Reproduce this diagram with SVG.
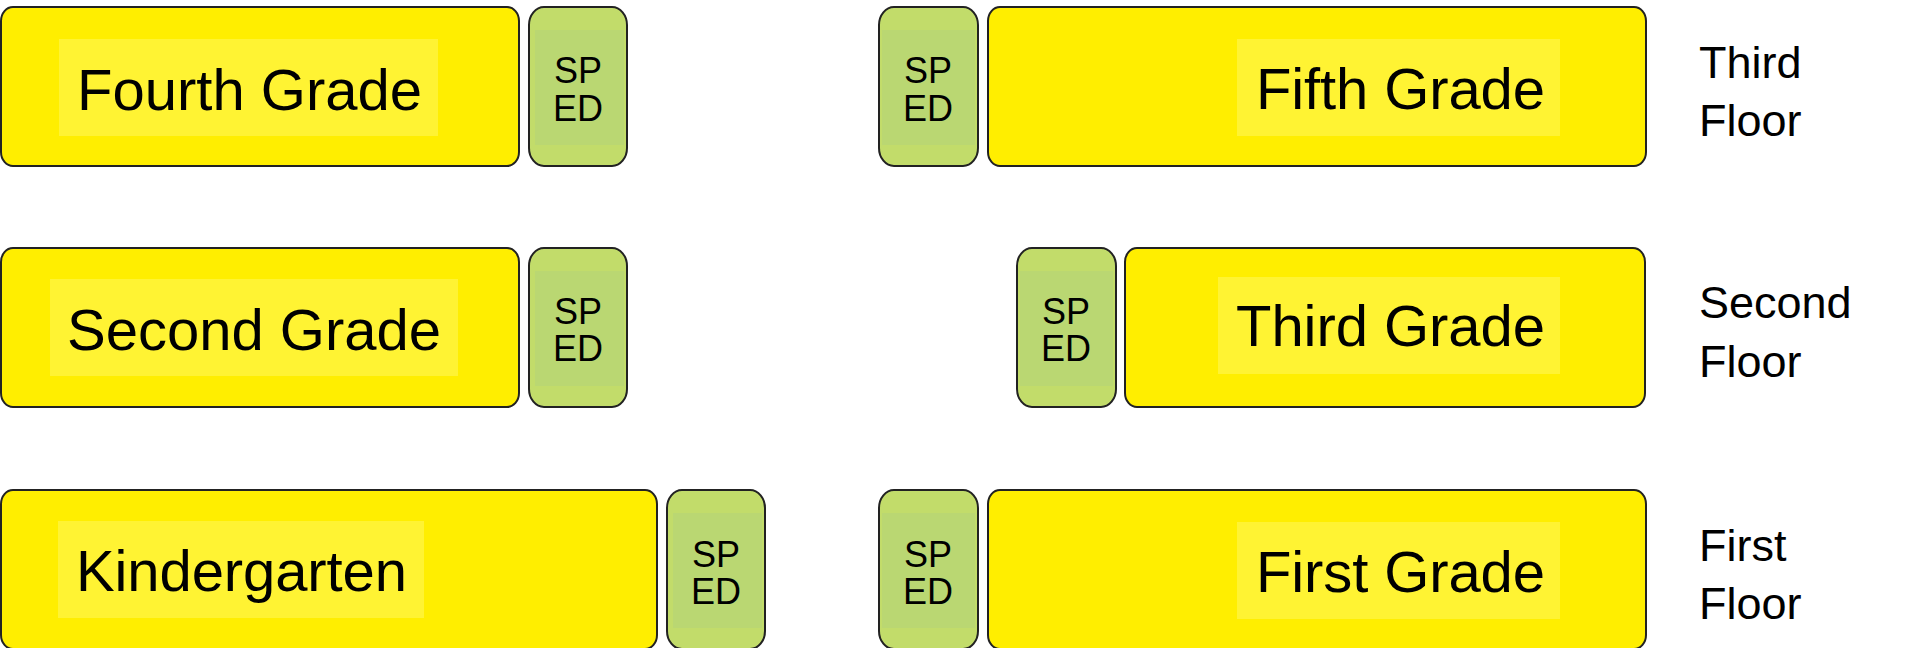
<svg xmlns="http://www.w3.org/2000/svg" width="1913" height="648" viewBox="0 0 1913 648">
<style>
.room{fill:#ffee00;stroke:#222;stroke-width:2}
.lbg{fill:#fff333}
.sped{fill:#c2dc6a;stroke:#222;stroke-width:2}
.spin{fill:#bad772}
.lt{font-family:"Liberation Sans",Arial,sans-serif;font-size:58px;fill:#000}
.st{font-family:"Liberation Sans",Arial,sans-serif;font-size:36px;fill:#000;text-anchor:middle}
.ft{font-family:"Liberation Sans",Arial,sans-serif;font-size:45px;fill:#000}
</style>
<rect width="1913" height="648" fill="#fff"/>
<g id="fourth-grade">
<rect class="room" x="1" y="7" width="518" height="159" rx="12" ry="14"/>
<rect class="lbg" x="59" y="39" width="379" height="97"/>
<text class="lt" x="77" y="110" textLength="345">Fourth Grade</text>
</g>
<g id="sped-1">
<rect class="sped" x="529" y="7" width="98" height="159" rx="15" ry="18"/>
<rect class="spin" x="535" y="30" width="89" height="115"/>
<text class="st" x="578" y="83">SP</text>
<text class="st" x="578" y="121">ED</text>
</g>
<g id="sped-2">
<rect class="sped" x="879" y="7" width="99" height="159" rx="15" ry="18"/>
<rect class="spin" x="882" y="30" width="93" height="115"/>
<text class="st" x="928" y="83">SP</text>
<text class="st" x="928" y="121">ED</text>
</g>
<g id="fifth-grade">
<rect class="room" x="988" y="7" width="658" height="159" rx="12" ry="14"/>
<rect class="lbg" x="1237" y="39" width="323" height="97"/>
<text class="lt" x="1256" y="109" textLength="289">Fifth Grade</text>
</g>
<g id="third-floor">
<text class="ft" x="1699" y="78">Third</text>
<text class="ft" x="1699" y="136">Floor</text>
</g>
<g id="second-grade">
<rect class="room" x="1" y="248" width="518" height="159" rx="12" ry="14"/>
<rect class="lbg" x="50" y="279" width="408" height="97"/>
<text class="lt" x="67" y="350" textLength="374">Second Grade</text>
</g>
<g id="sped-3">
<rect class="sped" x="529" y="248" width="98" height="159" rx="15" ry="18"/>
<rect class="spin" x="535" y="271" width="89" height="115"/>
<text class="st" x="578" y="324">SP</text>
<text class="st" x="578" y="361">ED</text>
</g>
<g id="sped-4">
<rect class="sped" x="1017" y="248" width="99" height="159" rx="15" ry="18"/>
<rect class="spin" x="1020" y="271" width="93" height="115"/>
<text class="st" x="1066" y="324">SP</text>
<text class="st" x="1066" y="361">ED</text>
</g>
<g id="third-grade">
<rect class="room" x="1125" y="248" width="520" height="159" rx="12" ry="14"/>
<rect class="lbg" x="1218" y="277" width="342" height="97"/>
<text class="lt" x="1236" y="346" textLength="309">Third Grade</text>
</g>
<g id="second-floor">
<text class="ft" x="1699" y="318">Second</text>
<text class="ft" x="1699" y="377">Floor</text>
</g>
<g id="kindergarten">
<rect class="room" x="1" y="490" width="656" height="159" rx="12" ry="14"/>
<rect class="lbg" x="58" y="521" width="366" height="97"/>
<text class="lt" x="76" y="591" textLength="331">Kindergarten</text>
</g>
<g id="sped-5">
<rect class="sped" x="667" y="490" width="98" height="159" rx="15" ry="18"/>
<rect class="spin" x="673" y="513" width="89" height="115"/>
<text class="st" x="716" y="567">SP</text>
<text class="st" x="716" y="604">ED</text>
</g>
<g id="sped-6">
<rect class="sped" x="879" y="490" width="99" height="159" rx="15" ry="18"/>
<rect class="spin" x="882" y="513" width="93" height="115"/>
<text class="st" x="928" y="567">SP</text>
<text class="st" x="928" y="604">ED</text>
</g>
<g id="first-grade">
<rect class="room" x="988" y="490" width="658" height="159" rx="12" ry="14"/>
<rect class="lbg" x="1237" y="522" width="323" height="97"/>
<text class="lt" x="1256" y="592" textLength="289">First Grade</text>
</g>
<g id="first-floor">
<text class="ft" x="1699" y="561">First</text>
<text class="ft" x="1699" y="619">Floor</text>
</g>
<g id="connectors"></g>
</svg>
